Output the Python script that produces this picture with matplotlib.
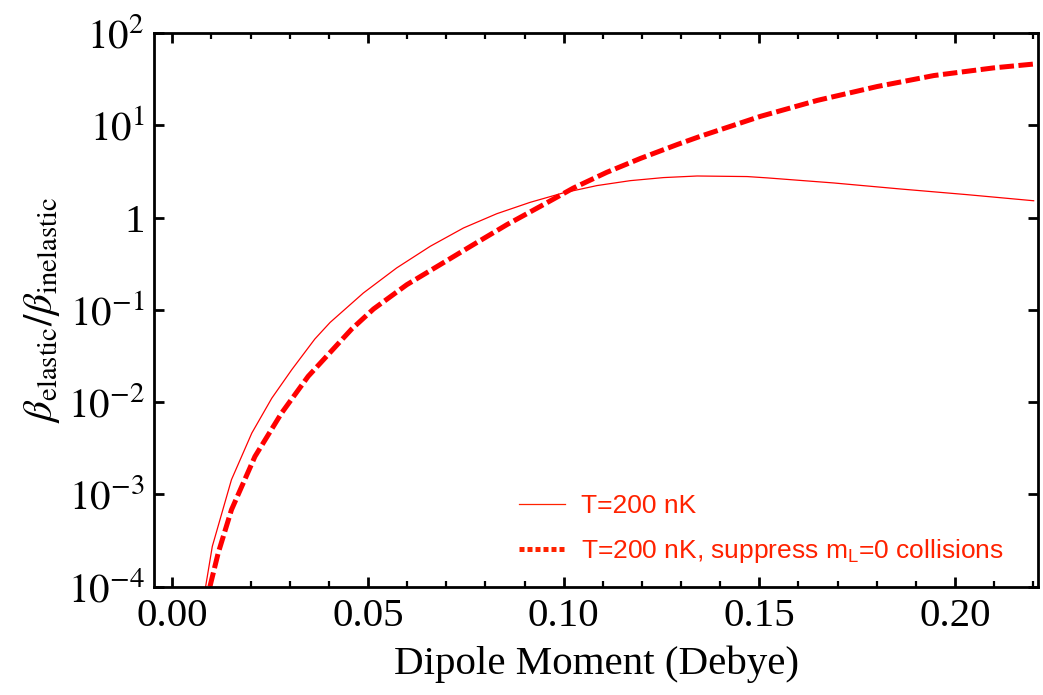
import matplotlib
matplotlib.use("Agg")
import matplotlib.pyplot as plt
from matplotlib.lines import Line2D
from matplotlib.ticker import FixedLocator, MultipleLocator, NullLocator, FormatStrFormatter

# dipole moment (Debye)
dipole_thermal = [0.0085, 0.0102, 0.0151, 0.0203, 0.0254, 0.0305, 0.0364, 0.0403,
                  0.0488, 0.0573, 0.0659, 0.0744, 0.0829, 0.0914, 0.0999, 0.1085,
                  0.1170, 0.1255, 0.1341, 0.1469, 0.1520, 0.1690, 0.1860, 0.2031,
                  0.2201]
ratio_thermal = [1.0e-4, 2.72e-4, 1.44e-3, 4.61e-3, 1.10e-2, 2.24e-2, 4.82e-2, 7.29e-2,
                 0.152, 0.284, 0.488, 0.771, 1.10, 1.46, 1.85, 2.22,
                 2.51, 2.71, 2.82, 2.78, 2.69, 2.37, 2.04, 1.77,
                 1.52]

dipole_suppr = [0.0096, 0.0117, 0.0151, 0.0211, 0.0279, 0.0347, 0.0437, 0.0458,
                0.0514, 0.0599, 0.0684, 0.0769, 0.0855, 0.0940, 0.1025, 0.1110,
                0.1196, 0.1290, 0.1349, 0.1503, 0.1648, 0.1801, 0.1946, 0.2099,
                0.2206]
ratio_suppr = [1.0e-4, 2.30e-4, 6.79e-4, 2.57e-3, 7.59e-3, 1.90e-2, 4.94e-2, 6.17e-2,
               0.102, 0.187, 0.308, 0.508, 0.838, 1.32, 2.09, 3.09,
               4.37, 6.18, 7.59, 12.5, 18.6, 26.3, 34.6, 41.9,
               46.3]

ytick_vals = [1e-4, 1e-3, 1e-2, 1e-1, 1, 1e1, 1e2]
ytick_labels = [r"$10^{-4}$", r"$10^{-3}$", r"$10^{-2}$", r"$10^{-1}$", "1", r"$10^{1}$", r"$10^{2}$"]

legend_labels = ["T=200 nK", r"T=200 nK, suppress $\mathregular{m_L}$=0 collisions"]

plt.rcParams["font.family"] = ["Liberation Serif", "DejaVu Serif"]
plt.rcParams["mathtext.fontset"] = "stix"

fig = plt.figure(figsize=(10.43, 6.95), dpi=100)
ax = fig.add_axes([0.148, 0.156, 0.8472, 0.7965])

ax.plot(dipole_thermal, ratio_thermal, color="#ff0000", lw=0.9)
ax.plot(dipole_suppr, ratio_suppr, color="#ff0000", lw=3.6,
        dashes=(2.9, 0.9), dash_capstyle="butt")

ax.set_yscale("log")
ax.set_xlim(-0.0046, 0.2212)
ax.set_ylim(1e-4, 1e2)

ax.yaxis.set_major_locator(FixedLocator(ytick_vals))
ax.set_yticklabels(ytick_labels)
ax.yaxis.set_minor_locator(NullLocator())
ax.xaxis.set_major_locator(MultipleLocator(0.05))
ax.xaxis.set_minor_locator(MultipleLocator(0.01))
ax.xaxis.set_major_formatter(FormatStrFormatter("%.2f"))

for s in ax.spines.values():
    s.set_linewidth(2.0)
ax.tick_params(which="both", direction="in", top=True, right=True, labelsize=29.5)
ax.tick_params(which="major", length=7, width=2.0)
ax.tick_params(which="minor", length=4, width=1.6)
ax.tick_params(axis="x", which="major", pad=8)
ax.tick_params(axis="y", which="major", pad=7)

ax.set_xlabel("Dipole Moment (Debye)", fontsize=29.5, labelpad=8)
ax.set_ylabel(r"$\beta_{\rm elastic}/\beta_{\rm inelastic}$", fontsize=29.5, labelpad=4)

# legend handles: thin line and a dotted stand-in for the thick dashes
handles = [Line2D([], [], color="#ff2200", lw=0.9),
           Line2D([], [], color="#ff2200", lw=3.6, dashes=(1.0, 0.6), dash_capstyle="butt")]
leg = ax.legend(handles, legend_labels, loc="center left", bbox_to_anchor=(0.4126, 0.103),
                frameon=False, borderpad=0, borderaxespad=0, handlelength=1.74,
                handletextpad=0.63, labelspacing=0.7,
                prop={"family": "Liberation Sans", "size": 19})
for t in leg.get_texts():
    t.set_color("#ff2200")

fig.savefig("out.png", dpi=100)
